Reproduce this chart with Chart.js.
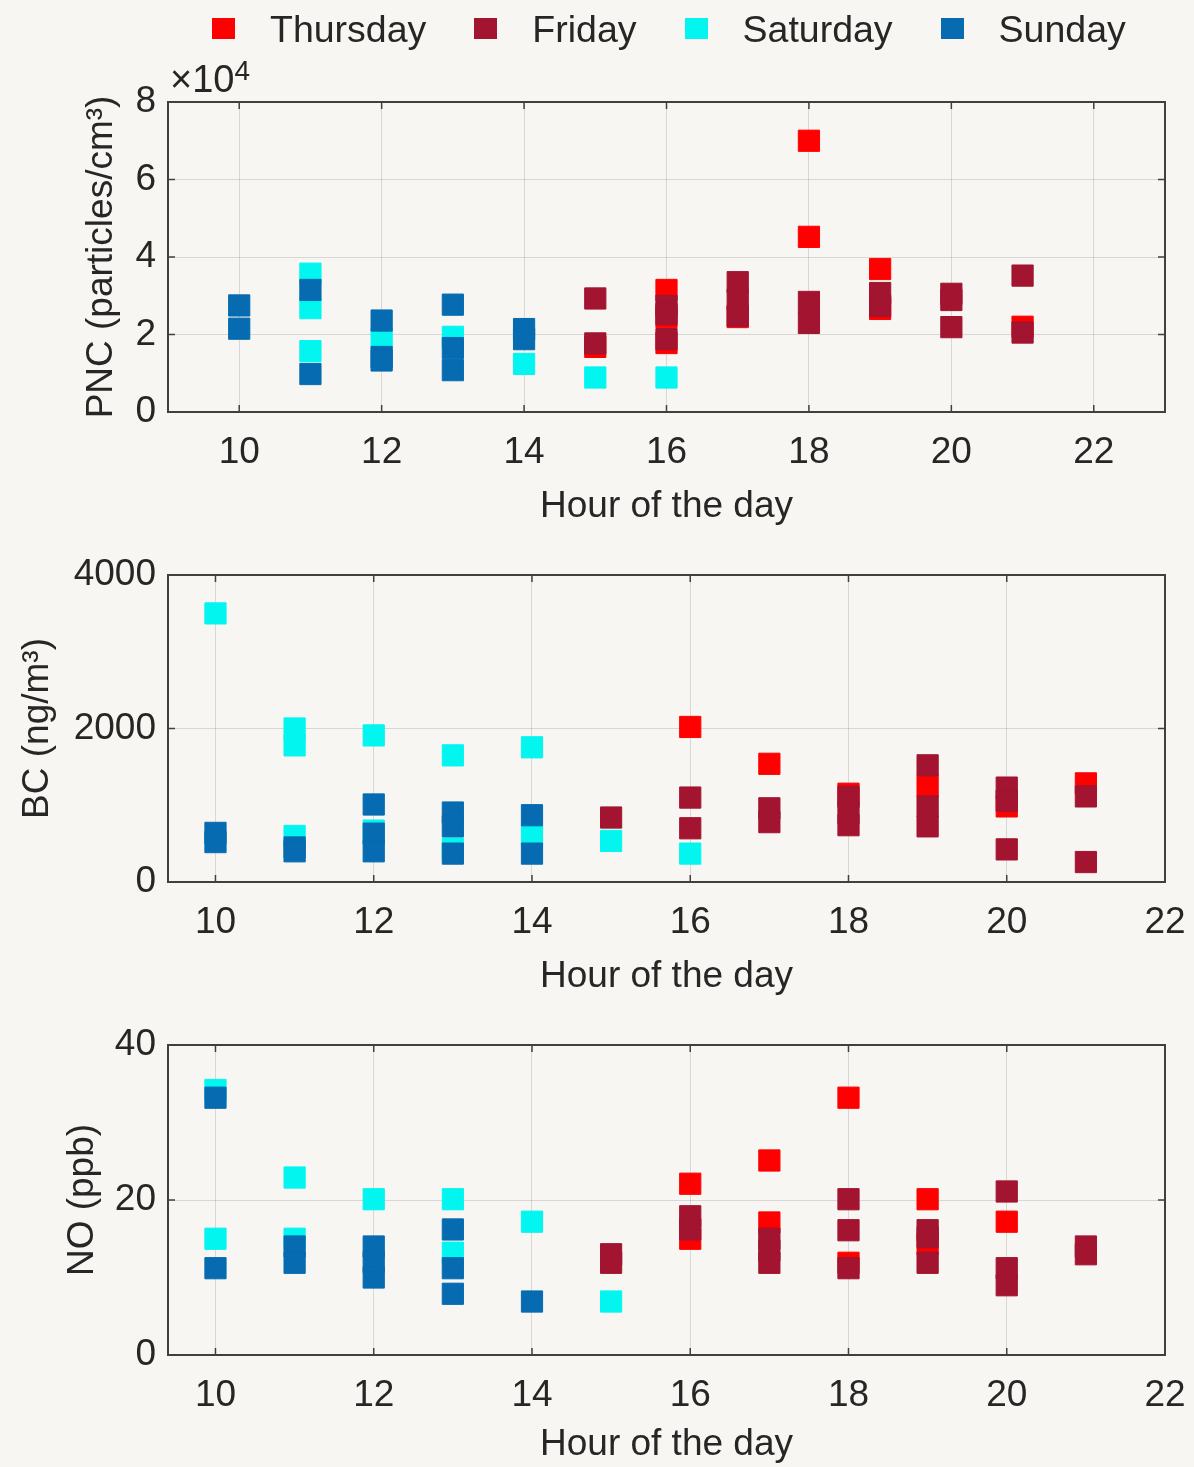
<!DOCTYPE html>
<html>
<head>
<meta charset="utf-8">
<title>PNC, BC and NO by hour of the day</title>
<script src="https://cdn.jsdelivr.net/npm/chart.js@4.4.1/dist/chart.umd.min.js"></script>
<style>
  body { margin: 0; background: #f7f6f2; font-family: "Liberation Sans", Arial, sans-serif; }
  #page { position: relative; width: 1194px; height: 1467px; background: #f7f6f2; }
  .panel { position: absolute; left: 0; }
  #legend { position: absolute; left: 212px; top: 0; height: 58px; display: flex; align-items: center; z-index: 2; }
  .legend-item { display: flex; align-items: center; margin-right: 48px; }
  .legend-box { width: 23px; height: 21px; margin-right: 35px; position: relative; top: -1px; }
  .legend-text { font-size: 37.5px; color: #262626; white-space: nowrap; }
</style>
</head>
<body>
<div id="page">
  <div id="legend"></div>
  <div class="panel" style="top:0"><canvas id="pncChart" width="1194" height="545"></canvas></div>
  <div class="panel" style="top:545px"><canvas id="bcChart" width="1194" height="470"></canvas></div>
  <div class="panel" style="top:1015px"><canvas id="noChart" width="1194" height="452"></canvas></div>
</div>
<script>
const days = ["Thursday", "Friday", "Saturday", "Sunday"];
const dayColors = ["#ff0000", "#a2142f", "#03f5f0", "#066bb0"];

const hourTicks = [10, 12, 14, 16, 18, 20, 22];
const pncTicks = [0, 20000, 40000, 60000, 80000];
const bcTicks = [0, 2000, 4000];
const noTicks = [0, 20, 40];

// PNC (particles/cm3) as [hour, value]
const pncThursday = [[15, 16800], [16, 31500], [16, 24500], [16, 17800], [17, 24500], [18, 70000], [18, 45200], [19, 36900], [19, 26600], [21, 22000]];
const pncFriday = [[15, 29300], [15, 17700], [16, 27400], [16, 25300], [16, 18800], [17, 33500], [17, 29000], [17, 24800], [18, 28400], [18, 23000], [19, 30700], [19, 27400], [20, 30500], [20, 28900], [20, 21900], [21, 35200], [21, 20500]];
const pncSaturday = [[11, 35700], [11, 26800], [11, 15700], [12, 19000], [13, 19400], [14, 12400], [15, 8900], [16, 8900]];
const pncSunday = [[10, 27500], [10, 21500], [11, 31500], [11, 9800], [12, 23600], [12, 14200], [12, 13300], [13, 27700], [13, 16500], [13, 10800], [14, 21400], [14, 18800]];

// BC (ng/m3)
const bcThursday = [[16, 2020], [17, 1540], [18, 1150], [19, 1250], [20, 985], [21, 1285]];
const bcFriday = [[15, 840], [16, 1100], [16, 700], [17, 960], [17, 780], [18, 1110], [18, 900], [18, 740], [19, 1520], [19, 985], [19, 725], [20, 1230], [20, 1060], [20, 425], [21, 1115], [21, 260]];
const bcSaturday = [[10, 3500], [11, 2000], [11, 1780], [11, 600], [12, 1910], [12, 670], [13, 1650], [13, 435], [14, 1755], [14, 600], [15, 535], [16, 370]];
const bcSunday = [[10, 640], [10, 520], [11, 450], [11, 400], [12, 1010], [12, 630], [12, 400], [13, 905], [13, 725], [13, 370], [14, 870], [14, 370]];

// NO (ppb)
const noThursday = [[16, 22.1], [16, 15.0], [17, 25.1], [17, 17.1], [18, 33.2], [18, 11.9], [19, 20.1], [19, 14.3], [20, 17.2]];
const noFriday = [[15, 13.0], [15, 11.9], [16, 17.9], [16, 16.2], [17, 15.0], [17, 13.5], [17, 11.9], [18, 20.1], [18, 16.1], [18, 11.2], [19, 16.1], [19, 15.2], [19, 11.9], [20, 21.1], [20, 11.2], [20, 9.0], [21, 14.0], [21, 13.0]];
const noSaturday = [[10, 34.2], [10, 15.0], [11, 22.9], [11, 15.0], [12, 20.1], [13, 20.1], [13, 13.2], [14, 17.2], [15, 6.9]];
const noSunday = [[10, 33.2], [10, 11.2], [11, 14.0], [11, 11.9], [12, 14.0], [12, 12.0], [12, 10.0], [13, 16.2], [13, 11.2], [13, 7.9], [14, 6.9]];

const textColor = "#262626";
const gridColor = "rgba(38, 38, 38, 0.15)";
const fontFamily = "'Liberation Sans', Arial, sans-serif";
const axisFont = { family: fontFamily, size: 37 };

// axes box with the tick marks pointing inwards
const boxPlugin = {
  id: "axesBox",
  afterDraw(chart) {
    const { ctx, chartArea: a, scales: { x, y } } = chart;
    ctx.save();
    ctx.strokeStyle = "#404040";
    ctx.lineWidth = 1.5;
    ctx.beginPath();
    x.ticks.forEach(t => {
      const px = x.getPixelForValue(t.value);
      ctx.moveTo(px, a.bottom); ctx.lineTo(px, a.bottom - 7);
      ctx.moveTo(px, a.top); ctx.lineTo(px, a.top + 7);
    });
    y.ticks.forEach(t => {
      const py = y.getPixelForValue(t.value);
      ctx.moveTo(a.left, py); ctx.lineTo(a.left + 7, py);
      ctx.moveTo(a.right, py); ctx.lineTo(a.right - 7, py);
    });
    ctx.stroke();
    ctx.lineWidth = 2;
    ctx.strokeRect(a.left, a.top, a.right - a.left, a.bottom - a.top);
    ctx.restore();
  }
};

// the x10^4 multiplier above the PNC axis
const exponentPlugin = {
  id: "exponentLabel",
  afterDraw(chart) {
    const { ctx, chartArea: a } = chart;
    ctx.save();
    ctx.fillStyle = textColor;
    ctx.textBaseline = "alphabetic";
    ctx.font = "38px " + fontFamily;
    ctx.fillText("\u00d710", a.left + 2, a.top - 10);
    const w = ctx.measureText("\u00d710").width;
    ctx.font = "28px " + fontFamily;
    ctx.fillText("4", a.left + 2 + w, a.top - 22);
    ctx.restore();
  }
};

function toPoints(pairs) {
  return pairs.map(([hour, value]) => ({ x: hour, y: value }));
}

function makeDatasets(series) {
  return series.map((pairs, i) => ({
    label: days[i],
    data: toPoints(pairs),
    backgroundColor: dayColors[i],
    borderColor: dayColors[i],
    borderWidth: 1,
    pointStyle: "rect",
    pointRadius: 15,
    pointHoverRadius: 15,
    // later days are drawn on top
    order: series.length - i
  }));
}

function makeChart(id, series, o) {
  return new Chart(document.getElementById(id), {
    type: "scatter",
    data: { datasets: makeDatasets(series) },
    options: {
      responsive: false,
      animation: false,
      events: [],
      layout: { padding: { top: o.top, right: 29, bottom: 0, left: 0 } },
      plugins: { legend: { display: false }, tooltip: { enabled: false } },
      scales: {
        x: {
          type: "linear",
          min: o.xMin,
          max: o.xMax,
          afterBuildTicks: axis => { axis.ticks = hourTicks.map(v => ({ value: v })); },
          afterFit: axis => {
            axis.height = o.xHeight;
            axis.paddingLeft = 0;
            axis.paddingRight = 0;
          },
          grid: { color: gridColor, drawTicks: false },
          border: { display: false },
          ticks: { color: textColor, font: axisFont, padding: 19, callback: v => String(v) },
          title: { display: true, text: "Hour of the day", color: textColor, font: axisFont, padding: { top: 0, bottom: o.xTitlePad } }
        },
        y: {
          type: "linear",
          min: o.yTicks[0],
          max: o.yTicks[o.yTicks.length - 1],
          afterBuildTicks: axis => { axis.ticks = o.yTicks.map(v => ({ value: v })); },
          afterFit: axis => {
            axis.width = 168;
            axis.paddingTop = 0;
            axis.paddingBottom = 0;
          },
          grid: { color: gridColor, drawTicks: false },
          border: { display: false },
          ticks: { color: textColor, font: axisFont, padding: 12, callback: o.yFormat },
          title: { display: true, text: o.yTitle, color: textColor, font: axisFont, padding: { top: o.yTitlePad, bottom: 0 } }
        }
      }
    },
    plugins: o.extraPlugins ? [boxPlugin].concat(o.extraPlugins) : [boxPlugin]
  });
}

const pncChart = makeChart("pncChart", [pncThursday, pncFriday, pncSaturday, pncSunday], {
  top: 102, xMin: 9, xMax: 23, xHeight: 133, xTitlePad: 16,
  yTicks: pncTicks, yFormat: v => String(v / 10000),
  yTitle: "PNC (particles/cm\u00b3)", yTitlePad: 80,
  extraPlugins: [exponentPlugin]
});

makeChart("bcChart", [bcThursday, bcFriday, bcSaturday, bcSunday], {
  top: 30, xMin: 9.4, xMax: 22, xHeight: 133, xTitlePad: 16,
  yTicks: bcTicks, yFormat: v => String(v),
  yTitle: "BC (ng/m\u00b3)", yTitlePad: 16
});

makeChart("noChart", [noThursday, noFriday, noSaturday, noSunday], {
  top: 30, xMin: 9.4, xMax: 22, xHeight: 112, xTitlePad: 0,
  yTicks: noTicks, yFormat: v => String(v),
  yTitle: "NO (ppb)", yTitlePad: 61
});

// shared legend for the three panels
function buildLegend(chart) {
  const legend = document.getElementById("legend");
  chart.data.datasets.forEach(ds => {
    const item = document.createElement("div");
    item.className = "legend-item";
    const box = document.createElement("span");
    box.className = "legend-box";
    box.style.background = ds.backgroundColor;
    const text = document.createElement("span");
    text.className = "legend-text";
    text.innerText = ds.label;
    item.appendChild(box);
    item.appendChild(text);
    legend.appendChild(item);
  });
}

buildLegend(pncChart);
</script>
</body>
</html>
